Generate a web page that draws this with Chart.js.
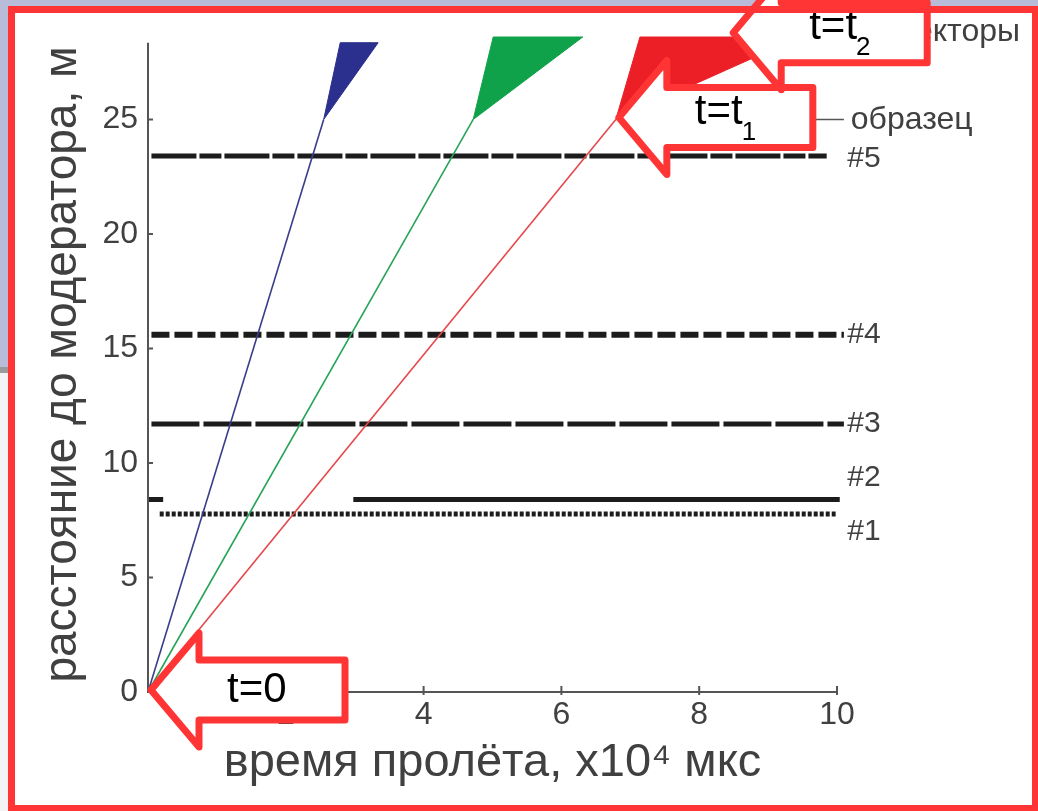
<!DOCTYPE html>
<html>
<head>
<meta charset="utf-8">
<script src="https://cdn.jsdelivr.net/npm/chart.js@4/dist/chart.umd.min.js"></script>
<style>
  html, body { margin: 0; padding: 0; background: #b8bcd9; }
  canvas { display: block; }
</style>
</head>
<body>
<canvas id="chart" width="1038" height="811"></canvas>
<script>
// time of flight in units of 10^4 us, distance from moderator in m
const sampleDistance = 25;
const tofAtSample = [2.55, 4.72, 6.79];          // blue, green, red neutrons
const spreadTopLeft = [2.79, 5.01, 7.14];
const spreadTopRight = [3.34, 6.31, 9.46];
const spreadTopY = [28.35, 28.6, 28.6];
const axisTop = 28.35;

const detectorNames = ['#1', '#2', '#3', '#4', '#5'];
const detectorY = [7.77, 8.4, 11.7, 15.6, 23.4];
const detectorStart = [0.17, 0, 0.05, 0.05, 0.05];
const detectorEnd = [9.98, 10.04, 10.1, 10.1, 9.85];
const detector2Gap = [0.22, 2.98];

const xTicks = [2, 4, 6, 8, 10];
const yTicks = [0, 5, 10, 15, 20, 25];

const arrowLabels = ['t=0', 't=t', 't=t'];
const arrowSubs = ['', '1', '2'];
const arrowTipX = [0, tofAtSample[2], 8.45];
const arrowTipY = [0, sampleDistance, 28.7];

const textGrey = '#404040';
const font = '"Liberation Sans", Arial, sans-serif';

const flightColors = ['#3a3d8c', '#27a457', '#e6474b'];
const spreadColors = ['#2b2f8e', '#10a24b', '#ec1e26'];
const dashes = [[4, 2], [], [48, 4], [18, 5], [45, 3, 22, 3]];
const widths = [5, 5, 5, 6, 5];

const datasets = [];

tofAtSample.forEach((t, i) => {
  datasets.push({
    data: [{ x: 0, y: 0 }, { x: t, y: sampleDistance }],
    borderColor: flightColors[i],
    borderWidth: 1.6
  });
  datasets.push({
    data: [
      { x: t, y: sampleDistance },
      { x: spreadTopLeft[i], y: spreadTopY[i] },
      { x: spreadTopRight[i], y: spreadTopY[i] },
      { x: t, y: sampleDistance }
    ],
    borderColor: spreadColors[i],
    borderWidth: 1,
    backgroundColor: spreadColors[i],
    fill: 'shape'
  });
});

detectorY.forEach((y, i) => {
  let pts = [{ x: detectorStart[i], y }, { x: detectorEnd[i], y }];
  if (i === 1) {
    pts = [
      { x: detectorStart[i], y }, { x: detector2Gap[0], y },
      { x: detector2Gap[0], y: null },
      { x: detector2Gap[1], y }, { x: detectorEnd[i], y }
    ];
  }
  datasets.push({
    data: pts,
    borderColor: '#1c1c1c',
    borderWidth: widths[i],
    borderDash: dashes[i],
    spanGaps: false
  });
});

datasets.forEach(d => {
  d.showLine = true;
  d.pointRadius = 0;
  d.clip = false;
});

function drawArrow(c, x, y, label, sub) {
  const head = 48, headHalf = 57, bodyHalf = 30, body = 146;
  c.save();
  c.beginPath();
  c.moveTo(x, y);
  c.lineTo(x + head, y - headHalf);
  c.lineTo(x + head, y - bodyHalf);
  c.lineTo(x + head + body, y - bodyHalf);
  c.lineTo(x + head + body, y + bodyHalf);
  c.lineTo(x + head, y + bodyHalf);
  c.lineTo(x + head, y + headHalf);
  c.closePath();
  c.fillStyle = '#ffffff';
  c.fill();
  c.lineJoin = 'round';
  c.lineWidth = 7;
  c.strokeStyle = '#ff3535';
  c.stroke();

  c.fillStyle = '#000000';
  c.textAlign = 'left';
  c.textBaseline = 'middle';
  c.font = '42px ' + font;
  const tx = x + head + 28;
  const ty = sub ? y - 5 : y;
  c.fillText(label, tx, ty);
  if (sub) {
    const w = c.measureText(label).width;
    c.font = '26px ' + font;
    c.fillText(sub, tx + w - 1, ty + 20);
  }
  c.restore();
}

const decor = {
  id: 'decor',
  beforeDraw(chart) {
    const c = chart.ctx;
    c.save();
    c.fillStyle = '#b8bcd9';
    c.fillRect(0, 0, 1038, 811);
    c.fillStyle = '#f3f3f5';
    c.fillRect(0, 367, 12, 444);
    c.fillStyle = '#9a9a9a';
    c.fillRect(0, 367, 12, 6);
    c.fillStyle = '#ffffff';
    c.fillRect(11, 10, 1024, 799);
    c.restore();
  },
  afterDraw(chart) {
    const c = chart.ctx;
    const xs = chart.scales.x, ys = chart.scales.y;
    const x0 = xs.getPixelForValue(0), y0 = ys.getPixelForValue(0);
    c.save();

    // y axis line and the small tick marks
    c.strokeStyle = '#555';
    c.lineWidth = 2;
    c.beginPath();
    c.moveTo(x0, y0);
    c.lineTo(x0, ys.getPixelForValue(axisTop));
    yTicks.forEach(v => {
      const py = ys.getPixelForValue(v);
      c.moveTo(x0, py);
      c.lineTo(x0 + 5, py);
    });
    xTicks.forEach(v => {
      const px = xs.getPixelForValue(v);
      c.moveTo(px, y0 - 6);
      c.lineTo(px, y0 + 3);
    });
    c.stroke();

    // detector labels
    const labelShift = [18, -22, 0, 0, 3];
    c.fillStyle = textGrey;
    c.textAlign = 'left';
    c.textBaseline = 'middle';
    c.font = '30px ' + font;
    detectorNames.forEach((name, i) => {
      c.fillText(name, xs.getPixelForValue(10.15), ys.getPixelForValue(detectorY[i]) + labelShift[i]);
    });

    // sample position
    const sy = ys.getPixelForValue(sampleDistance);
    c.strokeStyle = '#555';
    c.lineWidth = 1.5;
    c.beginPath();
    c.moveTo(xs.getPixelForValue(9.6), sy);
    c.lineTo(xs.getPixelForValue(10.1), sy);
    c.stroke();
    c.font = '32px ' + font;
    c.fillText('образец', xs.getPixelForValue(10.2), sy + 1);

    c.textAlign = 'right';
    c.fillText('детекторы', 1020, 32);

    // time markers
    arrowLabels.forEach((label, i) => {
      drawArrow(c, xs.getPixelForValue(arrowTipX[i]) + 3, ys.getPixelForValue(arrowTipY[i]) - 2, label, arrowSubs[i]);
    });

    // frame
    c.strokeStyle = '#ff3535';
    c.lineWidth = 7;
    c.strokeRect(11.5, 9.5, 1024, 799);
    c.restore();
  }
};

const ctx = document.getElementById('chart');
const chart = new Chart(ctx, {
  type: 'scatter',
  data: { datasets },
  options: {
    responsive: false,
    animation: false,
    layout: { padding: { left: 0, top: 37, right: 201, bottom: 0 } },
    plugins: { legend: { display: false }, tooltip: { enabled: false } },
    scales: {
      x: {
        type: 'linear',
        min: 0,
        max: 10,
        afterFit: s => { s.height = 119 },
        grid: { display: false, drawTicks: false },
        border: { color: '#555', width: 2 },
        ticks: {
          stepSize: 2,
          padding: 4,
          color: textGrey,
          font: { family: font, size: 32 },
          callback: v => v === 0 ? '' : v
        },
        title: {
          display: true,
          text: 'время пролёта, х10⁴ мкс',
          color: textGrey,
          font: { family: font, size: 47 },
          padding: { top: 0, bottom: 20 }
        }
      },
      y: {
        type: 'linear',
        min: 0,
        max: 28.6,
        afterFit: s => { s.width = 148 },
        grid: { display: false, drawTicks: false },
        border: { display: false },
        ticks: {
          stepSize: 5,
          includeBounds: false,
          padding: 10,
          color: textGrey,
          font: { family: font, size: 32 }
        },
        title: {
          display: true,
          text: 'расстояние до модератора, м',
          color: textGrey,
          font: { family: font, size: 46 },
          padding: { top: 36, bottom: 0 }
        }
      }
    }
  },
  plugins: [decor]
});
</script>
</body>
</html>
